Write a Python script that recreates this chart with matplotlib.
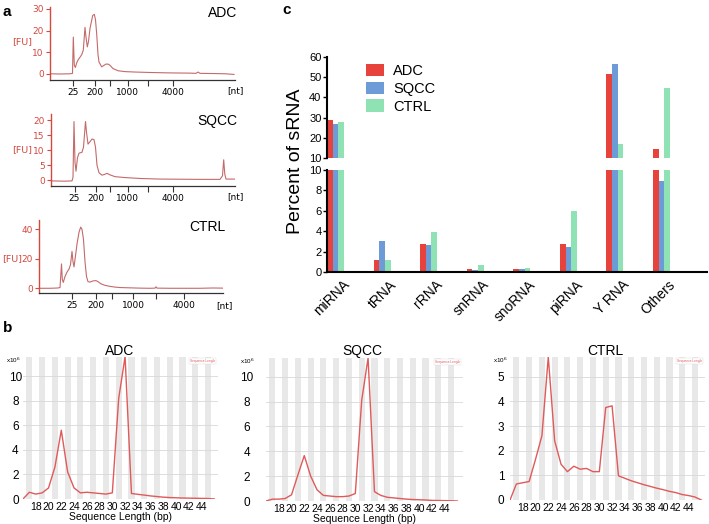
import matplotlib
matplotlib.use('Agg')
import matplotlib.pyplot as plt
import matplotlib.transforms as mtransforms
import numpy as np

W, H = 709, 524
fig = plt.figure(figsize=(W / 100, H / 100), dpi=100)
SANS = ['Liberation Sans', 'DejaVu Sans']
VERD = ['DejaVu Sans']

def rect(l, t, r, b):
    return [l / W, 1 - b / H, (r - l) / W, (b - t) / H]

def ftext(x, y, s, **kw):
    return fig.text(x / W, 1 - y / H, s, **kw)

# ---------------- Panel a data (migration position, fluorescence units) ----------------
adc_t = [50, 60, 70, 72.5, 73.3, 74.3, 75.3, 77, 78.3, 81.7, 83.3, 85, 86, 87.3, 88.5, 90, 92.7,
         94.3, 95.5, 96.7, 98, 99, 101.7, 104, 106, 108.5, 110, 113, 118, 125, 135, 150, 170,
         190, 196, 198, 200, 215, 225, 234]
adc_fu = [0.1, 0.0, 0.1, 0.3, 17, 4, 3, 5.5, 6.6, 8.9, 11, 21.5, 17, 12.5, 15, 21, 27, 27.5,
          25, 18.5, 9, 5.5, 3.3, 4.0, 4.6, 4.5, 4.0, 2.5, 1.5, 1.1, 0.9, 0.7, 0.5, 0.4, 0.3,
          0.9, 0.3, 0.2, 0.1, -0.2]

sqcc_t = [51, 65, 72, 73, 74, 75, 76, 77.5, 79, 82, 83.5, 85.5, 86.5, 88, 90, 92, 94, 95.5, 97,
          99, 102, 105, 107, 110, 115, 125, 140, 160, 200, 220, 222.5, 223.7, 224.8, 226, 235]
sqcc_fu = [-0.2, -0.3, -0.2, 1, 19.5, 6, 3, 7.5, 9, 9.3, 11, 19.5, 16, 12, 12.8, 13.7, 13.5,
           11, 5, 2.5, 1.7, 2.0, 2.3, 1.8, 1.2, 0.9, 0.6, 0.4, 0.3, 0.3, 1.5, 6.8, 2.0, 0.4, 0.4]

ctrl_t = [39, 50, 58, 60, 61.5, 62.3, 63.3, 65, 67, 69, 70.5, 72, 73, 74, 75.5, 77, 79, 80.7,
          82, 83.5, 85, 86.5, 88, 90, 93, 96, 98, 101, 105, 110, 115, 120, 130, 140, 150,
          155, 156, 157, 170, 200, 213, 223]
ctrl_fu = [0, 0, 0.2, 0.5, 16.5, 6, 4, 8, 11, 13, 16, 25, 18, 14.5, 22, 30, 38, 41.5, 40, 33,
           18, 8, 4.5, 4.2, 5, 5.2, 4.5, 3, 2, 1.3, 0.8, 0.5, 0.3, 0.1, 0.0, 0.1, 1.0, 0.1,
           0, 0, 0.2, 0.1]

nt_labels = ['25', '200', '', '1000', '', '4000']
adc_nt_pos = [73.3, 95, 110, 127.7, 148.3, 173.3]
sqcc_nt_pos = [74.5, 96, 110, 127.7, 148.3, 173.3]
ctrl_nt_pos = [72, 96, 112, 133.3, 155.7, 184.3]

RED_AX = '#d2493f'
TRACE = '#c46a6a'

def electro(px, t, fu, ylim, yticks, xt, title, title_xy, fu_xy, nt_xy):
    ax = fig.add_axes(rect(*px))
    ax.plot(t, fu, color=TRACE, lw=0.8)
    ax.set_xlim(px[0], px[2])
    ax.set_ylim(*ylim)
    for s in ('top', 'right'):
        ax.spines[s].set_visible(False)
    ax.spines['left'].set_color(RED_AX)
    ax.spines['left'].set_linewidth(1.0)
    ax.spines['bottom'].set_color('#333333')
    ax.spines['bottom'].set_linewidth(0.9)
    ax.set_yticks(yticks)
    ax.set_yticklabels([str(v) for v in yticks], fontsize=6.5, color=RED_AX, family=VERD)
    ax.tick_params(axis='y', colors=RED_AX, length=3, width=0.8, pad=1.5)
    ax.set_xticks(xt)
    ax.set_xticklabels(nt_labels, fontsize=6.5, family=VERD)
    ax.tick_params(axis='x', length=4, width=0.8, pad=2, color='#333333')
    ftext(title_xy[0], title_xy[1], title, fontsize=10, family=SANS, ha='center', va='center')
    ftext(fu_xy[0], fu_xy[1], '[FU]', fontsize=6.8, color=RED_AX, family=VERD, ha='center', va='center')
    ftext(nt_xy[0], nt_xy[1], '[nt]', fontsize=6.5, family=VERD, ha='center', va='center')
    return ax

electro((50, 7, 235, 80), adc_t, adc_fu, (-2.77, 30.9), [0, 10, 20, 30], adc_nt_pos,
        'ADC', (223, 13), (22, 42), (235, 91))
electro((51, 114, 235, 186), sqcc_t, sqcc_fu, (-1.9, 22.0), [0, 5, 10, 15, 20], sqcc_nt_pos,
        'SQCC', (217, 121), (22, 150), (235, 197))
electro((39, 220, 223, 293), ctrl_t, ctrl_fu, (-3.2, 46.3), [0, 20, 40], ctrl_nt_pos,
        'CTRL', (207, 227), (12.5, 259), (224, 306))

# ---------------- Panel b data (sequence length distribution, x10^6 reads) ----------------
seq_len = list(range(16, 47))
adc_reads = [0, 0.55, 0.4, 0.5, 0.9, 2.6, 5.6, 2.2, 0.9, 0.5, 0.55, 0.5, 0.45, 0.4, 0.5, 8.2,
             11.6, 0.45, 0.38, 0.32, 0.25, 0.2, 0.15, 0.12, 0.1, 0.08, 0.07, 0.06, 0.05, 0.04, 0.0]
sqcc_reads = [0, 0.15, 0.15, 0.2, 0.5, 2.1, 3.65, 2.0, 0.9, 0.45, 0.4, 0.35, 0.35, 0.4, 0.6,
              8.1, 11.5, 0.75, 0.45, 0.3, 0.25, 0.2, 0.15, 0.12, 0.1, 0.08, 0.05, 0.04, 0.03, 0.02, 0.0]
ctrl_reads = [0, 0.65, 0.7, 0.75, 1.65, 2.6, 5.8, 2.4, 1.45, 1.15, 1.37, 1.25, 1.28, 1.15, 1.15,
              3.75, 3.82, 0.98, 0.88, 0.78, 0.7, 0.62, 0.55, 0.48, 0.42, 0.35, 0.3, 0.22, 0.18, 0.12, 0.0]
len_ticks = list(range(18, 45, 2))

LINE_B = '#e05a5a'

def seqplot(px, vals, ylim, yticks, title, title_x, ylab_pad, x6_xy, xlabel):
    ax = fig.add_axes(rect(*px))
    for k in range(17, 47, 2):
        ax.axvspan(k - 0.48, k + 0.48, color='#e8e8e8', lw=0, zorder=0)
    for v in yticks[1:]:
        ax.axhline(v, color='#d8d8d8', lw=0.6, zorder=0.5)
    ax.plot(seq_len, vals, color=LINE_B, lw=1.0, zorder=2)
    ax.set_xlim(16, 16 + (px[2] - px[0]) / 6.38)
    ax.set_ylim(*ylim)
    for s in ax.spines.values():
        s.set_visible(False)
    ax.set_xticks(len_ticks)
    ax.set_xticklabels([str(v) for v in len_ticks], fontsize=7.5, family=SANS)
    ax.set_yticks(yticks)
    ax.set_yticklabels([str(v) for v in yticks], fontsize=8.5, family=SANS)
    ax.tick_params(axis='x', length=0, pad=2)
    ax.tick_params(axis='y', length=0, pad=ylab_pad)
    for lb in ax.get_yticklabels():
        lb.set_ha('center')
    if xlabel:
        ax.set_xlabel('Sequence Length (bp)', fontsize=7.5, family=SANS, labelpad=0.5)
    ax.text(0.985, 0.985, 'Sequence Length', transform=ax.transAxes, fontsize=2.3,
            color=LINE_B, ha='right', va='top', family=SANS, zorder=3,
            bbox=dict(fc='white', ec='#dddddd', lw=0.3, pad=0.8))
    ftext(title_x, 351, title, fontsize=10, family=SANS, ha='center', va='center')
    ftext(x6_xy[0], x6_xy[1], r'x10$^6$', fontsize=4.5, family=SANS, ha='left', va='center')
    return ax

seqplot((23, 357, 218, 499), adc_reads, (0, 11.57), [0, 2, 4, 6, 8, 10], 'ADC', 120, 5.5,
        (6, 360), True)
seqplot((266, 358, 463, 501), sqcc_reads, (0, 11.5), [0, 2, 4, 6, 8, 10], 'SQCC', 362, 14,
        (240, 361), True)
seqplot((510, 357, 705, 500), ctrl_reads, (0, 5.8), [0, 1, 2, 3, 4, 5], 'CTRL', 605, 6.5,
        (493, 360), False)

# ---------------- Panel c data (percent of sRNA) ----------------
categories = ['miRNA', 'tRNA', 'rRNA', 'snRNA', 'snoRNA', 'piRNA', 'Y RNA', 'Others']
adc_pct = [29, 1.2, 2.7, 0.3, 0.25, 2.7, 51.5, 14.3]
sqcc_pct = [27, 3.0, 2.65, 0.2, 0.3, 2.45, 56.7, 8.9]
ctrl_pct = [28, 1.2, 3.9, 0.65, 0.35, 6.0, 17, 44.8]
groups = ['ADC', 'SQCC', 'CTRL']
colors = ['#e8423d', '#6d9bd8', '#8fe2b4']

axU = fig.add_axes(rect(327, 57, 707, 158))
axL = fig.add_axes(rect(327, 170, 707, 272))
x = np.arange(len(categories))
bw = 0.12
for i, (vals, col, lab) in enumerate(zip([adc_pct, sqcc_pct, ctrl_pct], colors, groups)):
    for ax in (axU, axL):
        ax.bar(x + (i - 1) * bw, vals, bw, color=col, label=lab, lw=0)

for ax in (axU, axL):
    ax.set_xlim(-0.185, 7.98)
    for s in ('top', 'right'):
        ax.spines[s].set_visible(False)
    ax.spines['left'].set_linewidth(1.5)
    ax.tick_params(axis='y', length=3, width=1, pad=1, labelsize=8)
axU.set_ylim(10, 60)
axU.set_yticks([10, 20, 30, 40, 50, 60])
axU.spines['bottom'].set_visible(False)
axU.set_xticks([])
axL.set_ylim(0, 10)
axL.set_yticks([0, 2, 4, 6, 8, 10])
axL.spines['bottom'].set_linewidth(1.5)
axL.set_xticks(x)
axL.set_xticklabels(categories, rotation=45, ha='right', va='top', rotation_mode='anchor',
                    fontsize=10, family=SANS)
axL.tick_params(axis='x', length=0, pad=4)
shift = mtransforms.ScaledTranslation(0.07, 0, fig.dpi_scale_trans)
for lb in axL.get_xticklabels():
    lb.set_transform(lb.get_transform() + shift)
for ax in (axU, axL):
    for lb in ax.get_yticklabels():
        lb.set_family(SANS)

axU.legend(loc='upper left', bbox_to_anchor=(366 / W, 1 - 64 / H), bbox_transform=fig.transFigure,
           frameon=False, prop={'family': SANS, 'size': 10.5}, handlelength=1.25,
           handleheight=0.9, handletextpad=0.6, labelspacing=0.25, borderpad=0, borderaxespad=0)

ftext(295, 161, 'Percent of sRNA', fontsize=14, family=SANS, rotation=90, ha='center', va='center')

# panel letters
ftext(7, 12, 'a', fontsize=11, fontweight='bold', family=SANS, ha='center', va='center')
ftext(8, 328, 'b', fontsize=11, fontweight='bold', family=SANS, ha='center', va='center')
ftext(287, 10, 'c', fontsize=11, fontweight='bold', family=SANS, ha='center', va='center')

fig.savefig('out.png', dpi=100)
